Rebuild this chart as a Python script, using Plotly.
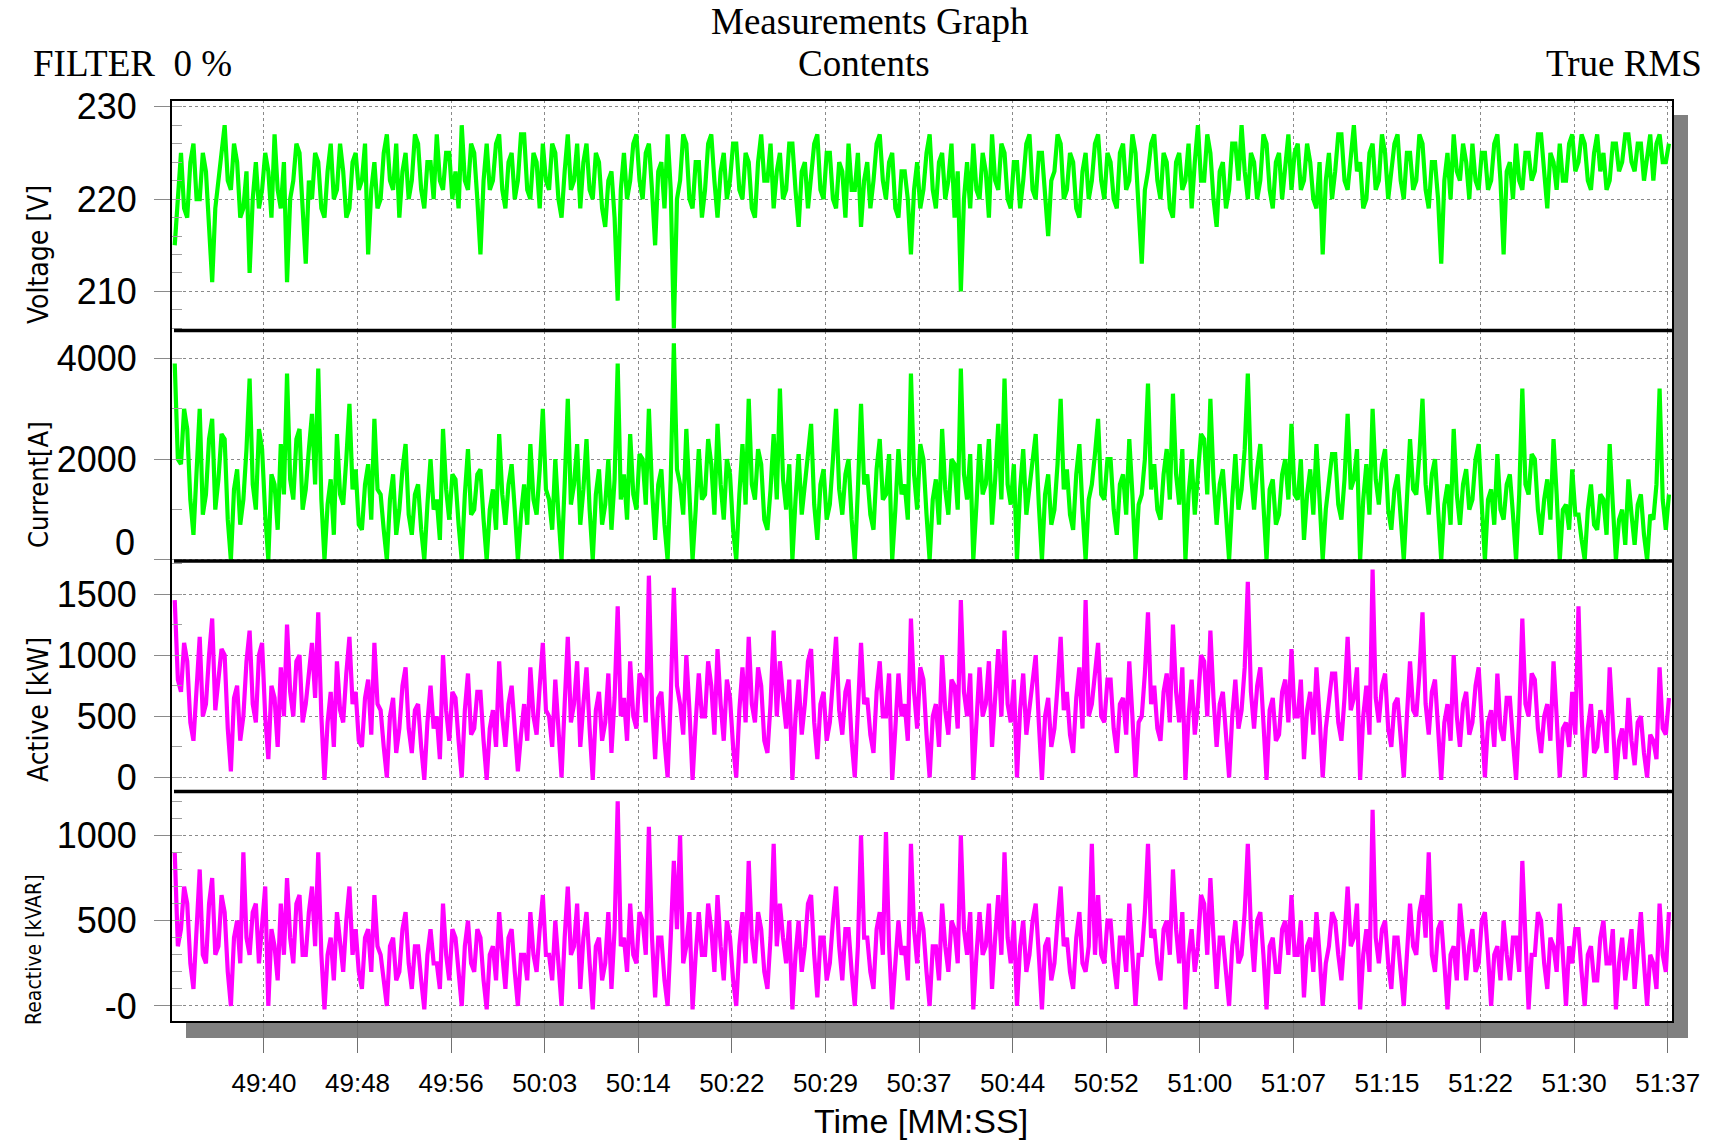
import plotly.graph_objects as go
from plotly.subplots import make_subplots

tick_labels = ["49:40", "49:48", "49:56", "50:03", "50:14", "50:22", "50:29", "50:37",
               "50:44", "50:52", "51:00", "51:07", "51:15", "51:22", "51:30", "51:37"]

# one row = one tick interval (30 samples)
voltage = [
    215, 221, 225, 219, 218, 224, 226, 220, 220, 225, 223, 217, 211, 219, 222, 226, 228, 222, 221, 226, 224, 218, 219, 223, 212, 220, 224, 219, 221, 225,
    223, 218, 227, 221, 219, 224, 211, 220, 222, 226, 225, 219, 213, 222, 220, 225, 224, 219, 218, 223, 226, 220, 221, 226, 223, 218, 219, 224, 225, 221,
    222, 226, 214, 221, 224, 219, 220, 225, 227, 222, 221, 226, 218, 223, 225, 220, 222, 227, 226, 221, 219, 224, 224, 220, 227, 222, 221, 225, 225, 220,
    223, 219, 228, 222, 221, 226, 225, 220, 214, 222, 226, 221, 222, 226, 227, 221, 219, 224, 225, 220, 222, 227, 227, 221, 220, 225, 224, 219, 226, 222,
    221, 226, 225, 220, 218, 223, 227, 221, 222, 226, 219, 224, 226, 221, 220, 225, 224, 219, 217, 222, 223, 218, 209, 221, 225, 220, 222, 226, 227, 222,
    220, 225, 226, 221, 215, 223, 224, 219, 227, 221, 206, 220, 222, 227, 226, 220, 219, 224, 224, 218, 221, 226, 227, 222, 218, 223, 225, 220, 222, 226,
    226, 221, 220, 225, 224, 219, 218, 224, 227, 222, 222, 226, 219, 223, 225, 220, 221, 226, 226, 221, 217, 223, 224, 219, 222, 226, 227, 221, 220, 225,
    225, 220, 219, 224, 223, 218, 226, 221, 221, 225, 217, 222, 224, 219, 222, 226, 227, 222, 220, 224, 225, 219, 218, 223, 223, 220, 214, 221, 224, 219,
    221, 225, 227, 221, 219, 224, 225, 220, 222, 226, 218, 223, 210, 220, 224, 219, 226, 221, 220, 225, 223, 218, 227, 222, 221, 226, 225, 220, 219, 224,
    224, 219, 222, 226, 227, 221, 220, 225, 225, 221, 216, 222, 223, 227, 226, 220, 221, 225, 224, 219, 218, 223, 225, 220, 222, 226, 227, 222, 220, 225,
    224, 220, 219, 225, 226, 221, 222, 227, 225, 219, 213, 221, 223, 226, 227, 222, 220, 225, 224, 219, 218, 224, 225, 221, 222, 226, 219, 224, 228, 222,
    222, 227, 225, 220, 217, 223, 224, 219, 221, 226, 226, 222, 228, 223, 220, 225, 224, 220, 222, 227, 226, 221, 219, 224, 225, 220, 223, 227, 221, 225,
    226, 221, 222, 226, 224, 220, 219, 224, 214, 222, 225, 220, 223, 227, 227, 222, 221, 225, 228, 223, 224, 219, 220, 225, 226, 221, 222, 227, 225, 220,
    223, 226, 227, 222, 220, 225, 225, 221, 222, 227, 226, 221, 219, 224, 224, 220, 213, 222, 225, 220, 227, 223, 222, 226, 224, 220, 226, 222, 221, 225,
    225, 221, 222, 226, 227, 222, 214, 223, 224, 220, 226, 222, 221, 225, 225, 222, 223, 227, 227, 223, 219, 225, 224, 221, 226, 222, 222, 226, 227, 223,
    224, 227, 226, 222, 221, 225, 227, 223, 225, 221, 222, 226, 226, 223, 224, 227, 227, 224, 223, 226, 226, 222, 225, 227, 222, 226, 227, 224, 224, 226,
]

current = [
    3900, 2000, 1900, 3000, 2600, 1200, 500, 1800, 3000, 900, 1300, 2400, 2800, 1000, 1600, 2500, 2400, 800, 0, 1400, 1800, 700, 1200, 2200, 3600, 1500, 1000, 2600, 2200, 900,
    0, 1700, 1500, 600, 2300, 1300, 3700, 1600, 1200, 2400, 2600, 1000, 1400, 2200, 2900, 1500, 3800, 1200, 0, 1100, 1600, 500, 2500, 1300, 1100, 2000, 3100, 1400, 1800, 700,
    600, 1500, 1900, 800, 2800, 1400, 1300, 600, 0, 1200, 1700, 500, 1000, 1800, 2300, 900, 500, 1300, 1500, 600, 0, 1100, 2000, 1000, 1200, 400, 2600, 1400, 800, 1700,
    1600, 700, 0, 1300, 2200, 900, 1000, 1700, 1800, 800, 0, 1000, 1400, 600, 2500, 1300, 700, 1500, 1900, 1000, 0, 900, 1500, 700, 2300, 1200, 900, 1800, 3000, 1400,
    1200, 600, 2000, 900, 0, 1500, 3200, 1100, 1500, 2300, 700, 1400, 2400, 1000, 0, 1300, 1800, 700, 1100, 2000, 600, 1600, 3900, 1200, 1700, 800, 2500, 1300, 1000, 2100,
    2000, 1100, 3000, 1400, 400, 1500, 1800, 700, 0, 1600, 4300, 1800, 1500, 900, 2600, 1300, 0, 1000, 2200, 1200, 1300, 2400, 1900, 900, 2700, 1500, 800, 2000, 1700, 600,
    0, 1300, 2300, 1100, 3200, 1500, 1200, 2200, 1900, 800, 600, 1400, 2500, 1200, 3400, 1600, 1000, 1900, 0, 1200, 2100, 900, 1500, 2300, 2700, 1100, 400, 1500, 1800, 800,
    1100, 2000, 3000, 1400, 900, 1700, 2000, 800, 0, 1400, 3100, 1500, 1700, 900, 600, 1800, 2400, 1200, 1300, 2100, 0, 1000, 2200, 1300, 1500, 800, 3700, 1700, 1000, 2300,
    2000, 900, 0, 1200, 1600, 700, 2600, 1400, 900, 2000, 1900, 1000, 3800, 1700, 1200, 2100, 0, 1100, 2300, 1300, 1500, 2400, 700, 1600, 2700, 1200, 3600, 1500, 1100, 1900,
    0, 1400, 2200, 900, 1400, 2000, 2500, 1100, 0, 1300, 1700, 700, 1000, 1900, 3200, 1400, 1800, 900, 600, 1700, 2300, 1000, 0, 1200, 1500, 2100, 2800, 1300, 1200, 2000,
    2000, 1000, 500, 1500, 1700, 900, 2400, 1300, 0, 1100, 1300, 2000, 3500, 1400, 1900, 1000, 800, 1700, 2200, 1200, 3300, 1700, 1100, 2200, 0, 1300, 2000, 900, 1600, 2500,
    2400, 1300, 3200, 1600, 700, 1500, 1800, 900, 0, 1200, 2100, 1000, 1400, 2200, 3700, 1700, 1000, 1800, 2300, 1100, 0, 1400, 1600, 700, 900, 1700, 2000, 1200, 2700, 1300,
    1200, 2000, 400, 1300, 1800, 900, 2300, 1200, 0, 1000, 1500, 2100, 2100, 1100, 800, 1600, 2900, 1400, 1600, 2200, 0, 1200, 1900, 900, 3000, 1600, 1100, 1900, 2200, 1000,
    600, 1400, 1700, 800, 0, 1200, 2400, 1400, 1300, 2100, 3200, 1500, 900, 1700, 2000, 1000, 0, 1100, 1500, 700, 2600, 1300, 700, 1500, 1800, 1000, 1200, 2000, 2300, 1100,
    0, 1200, 1400, 700, 2100, 1000, 800, 1500, 1700, 900, 0, 1300, 3400, 1500, 1300, 2100, 2000, 1000, 500, 1200, 1600, 800, 2400, 1300, 0, 1000, 1100, 600, 1800, 900,
    900, 400, 0, 1000, 1500, 700, 600, 1300, 1200, 500, 2300, 1100, 0, 800, 1000, 300, 1600, 900, 300, 1100, 1300, 500, 0, 900, 800, 1500, 3400, 1200, 600, 1300,
]

active = [
    1450, 800, 700, 1100, 950, 450, 300, 800, 1150, 500, 600, 1000, 1300, 550, 800, 1050, 1000, 400, 50, 650, 750, 300, 500, 950, 1200, 600, 450, 1000, 1100, 500,
    150, 750, 650, 250, 900, 500, 1250, 700, 500, 950, 1000, 450, 600, 900, 1100, 650, 1350, 500, -20, 450, 700, 250, 950, 550, 450, 850, 1150, 600, 700, 300,
    250, 650, 800, 350, 1100, 600, 550, 250, 0, 500, 650, 200, 400, 750, 900, 400, 200, 550, 600, 250, -20, 450, 750, 400, 500, 150, 1000, 550, 300, 700,
    650, 300, 0, 550, 850, 350, 400, 700, 700, 300, -20, 400, 550, 250, 950, 500, 250, 600, 750, 400, 50, 350, 600, 300, 900, 500, 350, 750, 1100, 550,
    500, 250, 800, 400, 0, 600, 1150, 450, 600, 950, 250, 600, 900, 400, -20, 550, 700, 300, 450, 850, 200, 650, 1400, 500, 650, 300, 950, 500, 400, 850,
    800, 450, 1650, 600, 150, 650, 700, 300, 0, 650, 1550, 750, 600, 350, 1000, 550, -20, 450, 850, 500, 500, 950, 750, 350, 1050, 600, 300, 800, 650, 250,
    0, 550, 900, 450, 1150, 600, 450, 900, 750, 300, 200, 600, 1200, 500, 950, 650, 400, 800, -20, 500, 800, 350, 600, 950, 1050, 450, 150, 600, 700, 300,
    450, 800, 1150, 550, 350, 700, 800, 300, 0, 550, 1100, 600, 650, 350, 200, 700, 950, 500, 500, 850, -20, 400, 850, 500, 600, 300, 1300, 700, 400, 900,
    800, 350, 0, 500, 600, 250, 1000, 550, 350, 800, 750, 400, 1450, 700, 500, 850, -20, 450, 900, 500, 600, 950, 250, 650, 1050, 500, 1200, 600, 450, 800,
    0, 550, 850, 350, 550, 800, 1000, 450, -20, 500, 650, 250, 400, 750, 1150, 550, 700, 350, 200, 650, 900, 400, 1450, 500, 600, 850, 1100, 500, 450, 800,
    800, 400, 200, 600, 650, 350, 950, 500, 0, 450, 500, 850, 1350, 600, 750, 400, 300, 700, 850, 450, 1250, 700, 450, 900, -20, 500, 800, 350, 600, 1000,
    950, 500, 1200, 650, 250, 600, 700, 350, 0, 500, 800, 400, 550, 900, 1600, 700, 400, 750, 900, 450, -20, 550, 650, 300, 350, 700, 800, 450, 1050, 500,
    500, 800, 150, 550, 700, 350, 900, 500, 0, 400, 600, 850, 850, 450, 300, 650, 1150, 550, 650, 900, -20, 500, 750, 350, 1700, 650, 450, 750, 850, 400,
    250, 600, 650, 300, 0, 500, 950, 550, 500, 850, 1350, 600, 350, 700, 800, 400, -20, 450, 600, 300, 1000, 500, 250, 600, 700, 350, 450, 750, 900, 450,
    0, 450, 550, 250, 850, 400, 300, 650, 650, 300, -20, 500, 1300, 600, 500, 850, 800, 400, 200, 500, 600, 300, 950, 500, 0, 400, 450, 250, 700, 350,
    1400, 500, 0, 400, 600, 200, 250, 550, 450, 200, 900, 450, -20, 300, 400, 150, 650, 300, 100, 450, 500, 200, 0, 350, 300, 150, 900, 400, 350, 650,
]

reactive = [
    900, 350, 450, 700, 600, 250, 100, 500, 800, 300, 250, 600, 750, 300, 350, 650, 550, 200, 0, 400, 500, 250, 900, 400, 300, 550, 600, 250, 450, 700,
    0, 450, 350, 150, 600, 300, 750, 400, 250, 600, 650, 300, 300, 550, 700, 350, 900, 300, -20, 300, 400, 150, 550, 350, 200, 500, 700, 300, 450, 200,
    100, 400, 450, 200, 650, 350, 300, 150, 0, 350, 400, 150, 200, 450, 550, 250, 100, 350, 350, 150, -20, 300, 450, 250, 250, 100, 600, 300, 150, 450,
    400, 200, 0, 350, 500, 250, 200, 450, 400, 150, -20, 300, 350, 150, 550, 300, 100, 400, 450, 200, 0, 300, 300, 150, 550, 300, 200, 450, 650, 300,
    300, 150, 500, 250, 0, 400, 700, 300, 350, 600, 100, 400, 550, 250, -20, 350, 400, 150, 250, 550, 100, 450, 1200, 350, 400, 200, 600, 300, 250, 550,
    500, 300, 1050, 400, 50, 400, 400, 150, 0, 400, 850, 450, 1000, 250, 350, 550, -20, 300, 550, 300, 300, 600, 450, 200, 650, 350, 150, 500, 400, 150,
    0, 350, 550, 250, 850, 400, 250, 550, 450, 200, 100, 400, 950, 350, 600, 400, 250, 500, -20, 300, 500, 200, 350, 600, 650, 300, 50, 400, 400, 150,
    250, 500, 700, 350, 150, 450, 450, 200, 0, 350, 1000, 400, 400, 200, 100, 450, 550, 300, 1020, 350, -20, 250, 500, 300, 350, 150, 950, 450, 250, 550,
    450, 200, 0, 350, 350, 150, 600, 350, 200, 500, 450, 250, 1000, 450, 300, 550, -20, 300, 550, 300, 350, 600, 100, 400, 650, 300, 900, 400, 250, 500,
    0, 350, 500, 200, 300, 500, 600, 300, -20, 350, 400, 150, 250, 500, 700, 350, 400, 200, 100, 400, 550, 250, 200, 350, 950, 300, 650, 300, 250, 500,
    500, 250, 100, 400, 400, 200, 600, 300, 0, 300, 300, 550, 950, 400, 450, 250, 150, 450, 500, 300, 800, 450, 250, 550, -20, 300, 450, 200, 350, 650,
    600, 300, 750, 400, 100, 400, 400, 200, 0, 350, 500, 250, 300, 550, 950, 450, 200, 500, 550, 300, -20, 350, 400, 200, 200, 450, 500, 300, 650, 300,
    300, 500, 50, 350, 400, 200, 550, 300, 0, 250, 350, 550, 500, 300, 150, 400, 700, 350, 400, 600, -20, 300, 450, 200, 1150, 400, 250, 450, 500, 250,
    100, 400, 400, 200, 0, 300, 600, 350, 300, 550, 650, 400, 900, 300, 200, 450, 500, 250, -20, 300, 350, 150, 600, 400, 150, 350, 450, 200, 250, 500,
    550, 300, 0, 300, 350, 150, 500, 300, 150, 400, 400, 200, 850, 400, -20, 300, 300, 550, 500, 250, 100, 400, 350, 200, 600, 300, 0, 350, 250, 450,
    450, 200, 0, 300, 350, 150, 150, 400, 500, 250, 250, 450, -20, 250, 400, 150, 300, 450, 100, 300, 550, 250, 0, 300, 250, 100, 600, 300, 200, 550,
]

FIRST_TICK = 28.6
TICK_STEP = 30
tick_pos = [FIRST_TICK + TICK_STEP * k for k in range(len(tick_labels))]
X_RANGE = [-1.2, 480.3]

W, H = 1720, 1143
PL, PR, PT, PB = 171, 1673, 100, 1022


def px_x(px):
    return (px - PL) / (PR - PL)


def px_y(py):
    return (PB - py) / (PB - PT)


GREEN = "#00FF00"
MAGENTA = "#FF00FF"
GRID = "#8a8a8a"
SANS = "Liberation Sans, Arial, sans-serif"
SERIF = "Liberation Serif, Times New Roman, serif"
NARROW = "Liberation Sans Narrow, Arial Narrow, DejaVu Sans Condensed, Liberation Sans, sans-serif"

fig = make_subplots(rows=4, cols=1, shared_xaxes=True, vertical_spacing=0)

series = [
    (voltage, GREEN, 1),
    (current, GREEN, 2),
    (active, MAGENTA, 3),
    (reactive, MAGENTA, 4),
]
for vals, col, row in series:
    fig.add_trace(go.Scatter(x=list(range(len(vals))), y=vals, mode="lines",
                             line=dict(color=col, width=4.2), showlegend=False,
                             hoverinfo="skip"), row=row, col=1)

yconf = [
    dict(range=[205.77, 230.73], tickvals=[210, 220, 230], ticktext=["210", "220", "230"],
         minor_dtick=2),
    dict(range=[-20, 4554], tickvals=[0, 2000, 4000], ticktext=["", "2000", "4000"],
         minor_dtick=1000),
    dict(range=[-115, 1770], tickvals=[0, 500, 1000, 1500], ticktext=["0", "500", "1000", "1500"],
         minor_dtick=250),
    dict(range=[-94, 1257], tickvals=[0, 500, 1000], ticktext=["-0", "500", "1000"],
         minor_dtick=100),
]
for i, c in enumerate(yconf, start=1):
    fig.update_yaxes(row=i, col=1, range=c["range"], tickmode="array",
                     tickvals=c["tickvals"], ticktext=c["ticktext"],
                     showgrid=True, gridcolor=GRID, griddash="dot", gridwidth=1,
                     zeroline=False, showline=False,
                     ticks="outside", ticklen=16, tickcolor=GRID, tickwidth=1,
                     ticklabelstandoff=10,
                     tickfont=dict(family=SANS, size=36, color="black"),
                     minor=dict(tickmode="linear", tick0=0, dtick=c["minor_dtick"],
                                ticks="inside", ticklen=11, tickcolor="#a0a0a0",
                                tickwidth=1, showgrid=False))

for i in range(1, 5):
    fig.update_xaxes(row=i, col=1, range=X_RANGE, tickmode="array",
                     tickvals=tick_pos, ticktext=tick_labels,
                     showgrid=True, gridcolor=GRID, griddash="dot", gridwidth=1,
                     zeroline=False, showline=False)
fig.update_xaxes(row=4, col=1, ticks="outside", ticklen=30, tickcolor="#707070",
                 tickwidth=1, ticklabelstandoff=8,
                 tickfont=dict(family=SANS, size=26, color="black"),
                 showticklabels=True)

shapes = []
# drop shadow (right and bottom strips)
shapes.append(dict(type="rect", xref="paper", yref="paper", layer="below",
                   x0=px_x(PR), x1=px_x(PR + 15), y0=px_y(PB + 16), y1=px_y(PT + 15),
                   fillcolor="#808080", line=dict(width=0)))
shapes.append(dict(type="rect", xref="paper", yref="paper", layer="below",
                   x0=px_x(PL + 15), x1=px_x(PR + 15), y0=px_y(PB + 16), y1=px_y(PB),
                   fillcolor="#808080", line=dict(width=0)))
# outer frame
shapes.append(dict(type="rect", xref="paper", yref="paper", x0=0, x1=1, y0=0, y1=1,
                   line=dict(color="black", width=2), fillcolor="rgba(0,0,0,0)"))
# panel separators
for yp in [0.25, 0.5, 0.75]:
    shapes.append(dict(type="line", xref="paper", yref="paper", x0=px_x(PL + 3), x1=1,
                       y0=yp, y1=yp, line=dict(color="black", width=3.5)))

TITLE_SIZE = 37
annotations = [
    dict(text="Measurements Graph", x=px_x(870), y=px_y(22), xanchor="center", yanchor="middle",
         font=dict(family=SERIF, size=TITLE_SIZE, color="black")),
    dict(text="Contents", x=px_x(864), y=px_y(63), xanchor="center", yanchor="middle",
         font=dict(family=SERIF, size=TITLE_SIZE, color="black")),
    dict(text="FILTER  0 %", x=px_x(31), y=px_y(63), xanchor="left", yanchor="middle",
         font=dict(family=SERIF, size=TITLE_SIZE, color="black")),
    dict(text="True RMS", x=px_x(1704), y=px_y(63), xanchor="right", yanchor="middle",
         font=dict(family=SERIF, size=TITLE_SIZE, color="black")),
    dict(text="Time [MM:SS]", x=px_x(921), y=px_y(1121), xanchor="center", yanchor="middle",
         font=dict(family=SANS, size=34, color="black")),
    # zero label of the current panel sits just above the panel separator
    dict(text="0", x=px_x(137), y=px_y(542), xanchor="right", yanchor="middle",
         font=dict(family=SANS, size=36, color="black")),
    dict(text="Voltage [V]", x=px_x(38), y=px_y(255), xanchor="center", yanchor="middle",
         textangle=-90, font=dict(family=NARROW, size=28, color="black")),
    dict(text="Current[A]", x=px_x(38), y=px_y(485), xanchor="center", yanchor="middle",
         textangle=-90, font=dict(family=NARROW, size=27, color="black")),
    dict(text="Active [kW]", x=px_x(38), y=px_y(710), xanchor="center", yanchor="middle",
         textangle=-90, font=dict(family=NARROW, size=28, color="black")),
    dict(text="Reactive [kVAR]", x=px_x(34), y=px_y(950), xanchor="center", yanchor="middle",
         textangle=-90, font=dict(family=NARROW, size=21, color="black")),
]
for a in annotations:
    a.update(xref="paper", yref="paper", showarrow=False)

fig.update_layout(width=W, height=H, margin=dict(l=PL, r=W - PR, t=PT, b=H - PB),
                  paper_bgcolor="white", plot_bgcolor="white",
                  shapes=shapes, annotations=annotations, showlegend=False)

fig.write_html("out.html")
